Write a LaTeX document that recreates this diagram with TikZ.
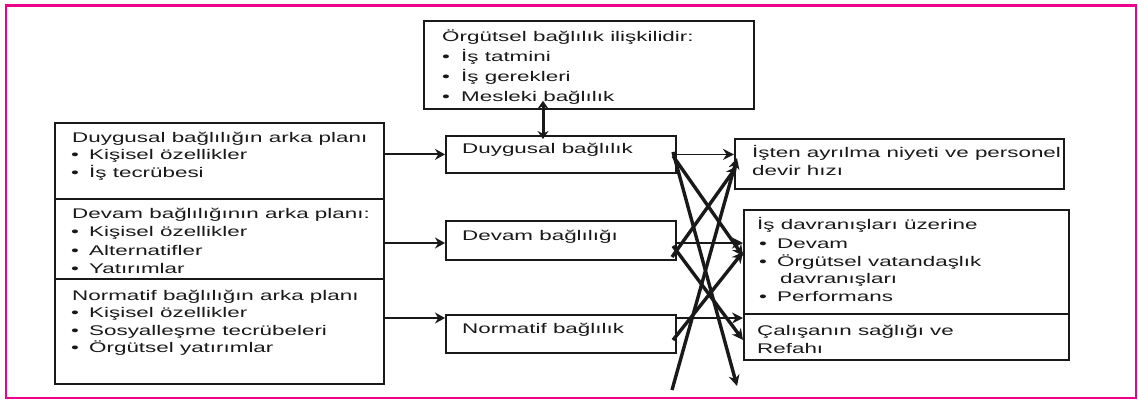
\documentclass[tikz,border=0pt]{standalone}
\usepackage{fontspec}
\setmainfont{Liberation Sans}[FakeStretch=1.6]
\usetikzlibrary{arrows.meta}
\definecolor{framepink}{RGB}{236,0,140}
\definecolor{ink}{RGB}{25,25,25}
\begin{document}
\begin{tikzpicture}[x=1pt,y=-1pt,
  box/.style={draw=ink, line width=1.8pt, inner sep=0pt, anchor=north west},
  txt/.style={anchor=base west, inner sep=0pt, text=ink, font=\fontsize{14}{18}\selectfont},
  arr/.style={draw=ink, line width=2pt, -{Stealth[length=10pt,width=11pt]}},
  xarr/.style={draw=ink, line width=3.4pt, -{Stealth[length=11pt,width=11pt]}},
]
\useasboundingbox (0,0) rectangle (1138,400);
\draw[framepink, line width=2.5pt] (6,5.5) rectangle (1136,398);

% boxes
\node[box, minimum width=330pt, minimum height=88pt] (top) at (423,20) {};
\node[box, minimum width=329pt, minimum height=76pt] (L1) at (54,122) {};
\node[box, minimum width=329pt, minimum height=80pt] (L2) at (54,198) {};
\node[box, minimum width=329pt, minimum height=105pt] (L3) at (54,278) {};
\node[box, minimum width=230pt, minimum height=37pt] (D) at (445,135) {};
\node[box, minimum width=230pt, minimum height=39pt] (V) at (445,220) {};
\node[box, minimum width=230pt, minimum height=38pt] (N) at (445,314) {};
\node[box, minimum width=329pt, minimum height=50pt] (R1) at (734,138) {};
\node[box, minimum width=325pt, minimum height=104pt] (R2) at (743,209) {};
\node[box, minimum width=325pt, minimum height=46pt] (R3) at (743,313) {};

% texts: top box
\node[txt] (t1) at (442,41) {Örgütsel bağlılık ilişkilidir:};
\node[txt] (t2b) at (442,61) {•};
\node[txt] (t2) at (461,61) {İş tatmini};
\node[txt] (t3b) at (442,81) {•};
\node[txt] (t3) at (461,81) {İş gerekleri};
\node[txt] (t4b) at (442,101) {•};
\node[txt] (t4) at (461,101) {Mesleki bağlılık};

% left box
\node[txt] (a1) at (72,142) {Duygusal bağlılığın arka planı};
\node[txt] (a2b) at (71,159.5) {•};
\node[txt] (a2) at (89,159.5) {Kişisel özellikler};
\node[txt] (a3b) at (71,177) {•};
\node[txt] (a3) at (89,177) {İş tecrübesi};

\node[txt] (b1) at (72,218) {Devam bağlılığının arka planı:};
\node[txt] (b2b) at (71,236.5) {•};
\node[txt] (b2) at (89,236.5) {Kişisel özellikler};
\node[txt] (b3b) at (71,255) {•};
\node[txt] (b3) at (89,255) {Alternatifler};
\node[txt] (b4b) at (71,273) {•};
\node[txt] (b4) at (89,273) {Yatırımlar};

\node[txt] (c1) at (72,300) {Normatif bağlılığın arka planı};
\node[txt] (c2b) at (71,317.5) {•};
\node[txt] (c2) at (89,317.5) {Kişisel özellikler};
\node[txt] (c3b) at (71,335) {•};
\node[txt] (c3) at (89,335) {Sosyalleşme tecrübeleri};
\node[txt] (c4b) at (71,352.5) {•};
\node[txt] (c4) at (89,352.5) {Örgütsel yatırımlar};

% middle
\node[txt] (dT) at (462,153) {Duygusal bağlılık};
\node[txt] (vT) at (462,240) {Devam bağlılığı};
\node[txt] (nT) at (462,333) {Normatif bağlılık};

% right
\node[txt] (r1) at (752,157) {İşten ayrılma niyeti ve personel};
\node[txt] (r2) at (752,175) {devir hızı};
\node[txt] (s1) at (757,229) {İş davranışları üzerine};
\node[txt] (s2b) at (759,248) {•};
\node[txt] (s2) at (777,248) {Devam};
\node[txt] (s3b) at (759,266) {•};
\node[txt] (s3) at (777,266) {Örgütsel vatandaşlık};
\node[txt] (s4) at (780,283) {davranışları};
\node[txt] (s5b) at (759,301) {•};
\node[txt] (s5) at (777,301) {Performans};
\node[txt] (u1) at (757,335) {Çalışanın sağlığı ve};
\node[txt] (u2) at (757,353) {Refahı};

% arrows from left
\coordinate (nIn) at (445,318);
\coordinate (vIn) at (445,243);
\draw[arr] (L1.east |- D.west) -- (D.west);
\draw[arr] (L2.east |- vIn) -- (vIn);
\draw[arr] (L3.east |- nIn) -- (nIn);

% double arrow
\coordinate (dd) at (543,0);
\draw[draw=ink, line width=3pt, {Stealth[length=8pt,width=11pt]}-{Stealth[length=8pt,width=11pt]}, shorten <=-9pt, shorten >=-4pt] (top.south -| dd) -- (D.north -| dd);

% crossing connectors
\coordinate (p1) at (673,152);
\coordinate (p2) at (737,386);
\coordinate (p3) at (672,390);
\coordinate (p4) at (737,158);
\coordinate (p5) at (673,156);
\coordinate (p6) at (743,256);
\coordinate (p7) at (672,257);
\coordinate (p8) at (737,166);
\coordinate (p9) at (673,246);
\coordinate (p10) at (743,340);
\coordinate (p11) at (673,340);
\coordinate (p12) at (743,252);
\coordinate (h1) at (675,243);
\coordinate (h2) at (675,318);

\draw[xarr, line width=1.8pt] (D.east) -- (R1.west |- D.east);
\draw[xarr] (p1) -- (p2);
\draw[xarr] (p3) -- (p4);
\draw[xarr] (p5) -- (p6);
\draw[xarr] (p7) -- (p8);
\draw[xarr] (p9) -- (p10);
\draw[xarr] (p11) -- (p12);
\draw[xarr, line width=1.8pt] (h1) -- (R2.west |- h1);
\draw[xarr, line width=1.8pt] (h2) -- (R3.west |- h2);
\end{tikzpicture}
\end{document}
